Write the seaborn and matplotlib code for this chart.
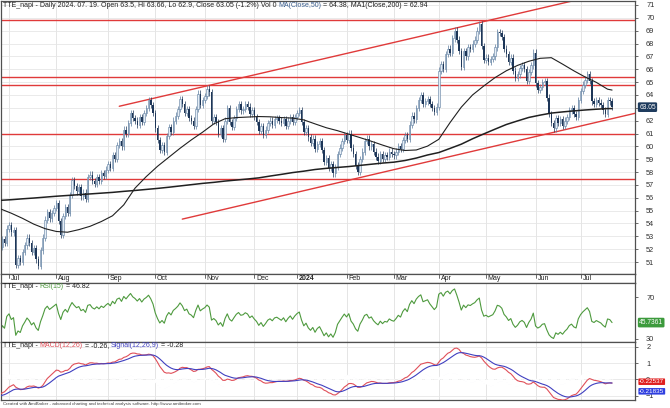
import numpy as np
import pandas as pd
import matplotlib
matplotlib.use('Agg')
import matplotlib.pyplot as plt
import seaborn as sns

# closes before the visible window (only used to warm up RSI / MACD)
warmup_close = [57.2, 56.7, 57.0, 56.3, 55.9, 56.2, 55.6, 55.1, 55.4, 54.8,
                54.4, 54.8, 54.3, 53.8, 54.2, 53.6, 53.2, 53.6, 53.0, 52.6,
                53.0, 52.5, 52.0, 52.3, 51.8, 51.5, 51.8, 52.1, 52.3, 52.4]

# daily closes, one list per month
close_jun23 = [52.2, 52.8, 52.5, 53.6]
close_jul23 = [53.9, 53.3, 53.5, 50.8, 51.3, 51.0, 51.8, 52.3, 52.9, 52.5, 51.8,
               52.1, 51.2, 50.7, 51.9, 52.9, 54.3, 54.9, 54.4, 54.8, 55.2]
close_aug23 = [55.6, 54.2, 53.1, 54.6, 55.3, 54.8, 56.2, 57.4, 56.9, 56.5, 56.8, 56.1,
               56.4, 55.9, 57.6, 57.8, 57.3, 57.1, 57.6, 57.3, 57.9, 57.7, 58.2]
close_sep23 = [58.6, 58.3, 59.3, 59.0, 60.1, 60.4, 60.0, 61.3, 61.0, 61.8, 62.6,
               62.2, 62.0, 61.7, 62.3, 61.9, 62.6, 63.0, 63.6, 63.2, 62.6]
close_oct23 = [61.4, 60.5, 59.7, 60.1, 59.6, 60.8, 61.5, 61.1, 62.0, 62.4, 62.9,
               63.7, 63.3, 62.6, 62.9, 62.2, 62.0, 61.6, 62.9, 64.1, 63.2, 63.6]
close_nov23 = [63.9, 64.5, 64.2, 62.0, 62.3, 61.9, 61.0, 61.4, 60.6, 62.0, 63.0,
               61.9, 61.5, 62.2, 62.9, 63.3, 62.8, 62.9, 63.3, 63.1, 62.5, 62.8]
close_dec23 = [62.3, 61.9, 61.2, 61.6, 60.9, 61.3, 61.8, 62.0, 61.7, 62.1, 62.2,
               62.0, 61.8, 62.1, 61.6, 62.0, 62.3, 61.9, 62.3]
close_jan24 = [62.6, 62.8, 61.9, 61.1, 61.4, 60.7, 60.3, 60.6, 59.8, 60.2, 60.4,
               59.7, 58.8, 59.1, 58.3, 58.6, 57.9, 58.4, 59.4, 59.9, 60.4, 60.9]
close_feb24 = [60.5, 61.0, 59.9, 59.4, 58.5, 58.0, 59.0, 59.6, 60.4, 60.6, 60.0,
               60.2, 59.6, 59.2, 58.9, 59.4, 59.0, 59.3, 59.2, 59.6, 59.4]
close_mar24 = [59.3, 59.6, 60.0, 59.8, 60.5, 60.9, 60.6, 61.7, 62.4, 62.1, 63.0,
               63.6, 64.0, 63.3, 63.5, 63.7, 63.3, 63.0, 62.7, 63.1]
close_apr24 = [65.9, 66.4, 66.0, 67.2, 67.6, 67.3, 68.4, 69.0, 68.3, 67.4, 66.2,
               67.4, 67.0, 67.7, 67.6, 68.0, 68.3, 69.0, 69.5, 67.8, 66.7]
close_may24 = [66.9, 66.6, 66.8, 67.0, 67.7, 68.9, 68.8, 68.5, 67.6, 67.2, 66.6,
               66.9, 65.9, 65.3, 65.6, 66.1, 66.3, 66.0, 65.1, 65.8, 66.3, 67.3]
close_jun24 = [64.9, 64.4, 64.6, 65.0, 65.1, 63.8, 62.5, 61.8, 61.4, 62.2, 61.8,
               62.1, 61.6, 62.0, 62.3, 62.8, 63.0, 62.5, 62.3, 63.6]
close_jul24 = [64.3, 64.8, 65.2, 65.6, 65.1, 63.5, 63.3, 63.6, 63.4, 63.2, 62.8,
               62.5, 63.6, 63.5, 63.05]

holidays = ['2023-12-25', '2023-12-26', '2024-01-01', '2024-03-29', '2024-04-01', '2024-05-01']

# moving averages, one value every 5 bars plus the last bar
ma50_pts = [55.15, 54.80, 54.40, 53.95, 53.60, 53.38, 53.32, 53.52, 53.78, 54.15,
            54.60, 55.45, 56.75, 57.65, 58.45, 59.15, 59.85, 60.50, 61.10, 61.75,
            62.15, 62.24, 62.28, 62.32, 62.30, 62.24, 62.20, 62.06, 61.75, 61.45,
            61.22, 60.95, 60.68, 60.40, 60.10, 59.82, 59.68, 59.72, 60.02, 60.55,
            61.85, 63.05, 64.00, 64.70, 65.35, 65.88, 66.30, 66.62, 66.85, 66.90,
            66.40, 65.88, 65.40, 64.98, 64.45, 64.38]
ma200_pts = [55.80, 55.85, 55.92, 55.98, 56.05, 56.12, 56.18, 56.24, 56.30, 56.36,
             56.42, 56.50, 56.57, 56.65, 56.73, 56.82, 56.92, 57.02, 57.12, 57.20,
             57.30, 57.38, 57.46, 57.55, 57.69, 57.82, 57.96, 58.07, 58.20, 58.29,
             58.36, 58.43, 58.52, 58.61, 58.70, 58.77, 58.90, 59.09, 59.33, 59.52,
             59.84, 60.17, 60.59, 60.97, 61.34, 61.70, 61.98, 62.25, 62.43, 62.59,
             62.68, 62.76, 62.83, 62.89, 62.94, 62.94]

level_lines = [69.8, 65.4, 64.8, 61.0, 57.5]
upper_trend = [('2023-09-08', 63.12), ('2024-04-26', 69.63)]
lower_trend = [('2023-10-18', 54.34), ('2024-06-12', 61.05)]

month_labels = ['Jul', 'Aug', 'Sep', 'Oct', 'Nov', 'Dec', '2024',
                'Feb', 'Mar', 'Apr', 'May', 'Jun', 'Jul']

sns.set_style('white')
plt.rcParams['font.family'] = ['Liberation Sans', 'DejaVu Sans']

dates = pd.bdate_range('2023-06-27', '2024-07-19')
dates = dates[~dates.isin(pd.to_datetime(holidays))]
closes = (close_jun23 + close_jul23 + close_aug23 + close_sep23 + close_oct23 +
          close_nov23 + close_dec23 + close_jan24 + close_feb24 + close_mar24 +
          close_apr24 + close_may24 + close_jun24 + close_jul24)
assert len(dates) == len(closes)
n = len(closes)

df = pd.DataFrame({'date': dates, 'x': np.arange(n), 'close': closes})
df['open'] = df['close'].shift(1).fillna(warmup_close[-1])
df['high'] = df[['open', 'close']].max(axis=1) + 0.25
df['low'] = df[['open', 'close']].min(axis=1) - 0.25

# indicators, computed on warm-up + visible closes
full = pd.Series(warmup_close + closes, dtype=float)
delta = full.diff().fillna(0)
gain = delta.clip(lower=0).ewm(alpha=1 / 15, adjust=True).mean()
loss = (-delta.clip(upper=0)).ewm(alpha=1 / 15, adjust=True).mean()
rsi = 100 - 100 / (1 + gain / loss)
ema12 = full.ewm(span=12, adjust=False).mean()
ema26 = full.ewm(span=26, adjust=False).mean()
macd = ema12 - ema26
signal = macd.ewm(span=9, adjust=False).mean()
k = len(warmup_close)
df['rsi'] = rsi.values[k:]
df['macd'] = macd.values[k:]
df['signal'] = signal.values[k:]
df['hist'] = df['macd'] - df['signal']

ma_x = list(range(0, n, 5)) + [n - 1]
ma = pd.DataFrame({'x': ma_x, 'ma50': ma50_pts, 'ma200': ma200_pts})

# layout in pixels
W, H = 670, 408
fig = plt.figure(figsize=(W / 100, H / 100), dpi=100)


def axes_px(x0, y0, x1, y1):
    return fig.add_axes([x0 / W, 1 - y1 / H, (x1 - x0) / W, (y1 - y0) / H])


ax_p = axes_px(1, 1, 635, 274)
ax_d = axes_px(1, 274, 635, 283)
ax_r = axes_px(1, 283, 635, 342)
ax_m = axes_px(1, 342, 635, 400)

xlim = (0.44, 282.2)
month_x = df.groupby([df['date'].dt.year, df['date'].dt.month])['x'].first().values[1:]

for ax in (ax_p, ax_d, ax_r, ax_m):
    ax.set_xlim(*xlim)
    ax.set_facecolor('white')
    for s in ax.spines.values():
        s.set_color('#505050')
        s.set_linewidth(0.9)
    ax.set_xticks([])
    if ax is not ax_d:
        for mx in month_x:
            ax.axvline(mx, color='#e0e0e0', lw=0.6, zorder=0)
        ax.yaxis.tick_right()
        ax.tick_params(axis='y', length=2, width=0.5, colors='#303030',
                       labelsize=5.3, pad=6)

# price panel
ax_p.set_ylim(50.07, 71.31)
ax_p.set_yticks(range(51, 72))
for lv in range(51, 72):
    ax_p.axhline(lv, color='#e6e6e6', lw=0.6, zorder=0)
for lv in level_lines:
    ax_p.axhline(lv, color='#e03a3a', lw=1.0, zorder=2)


def draw_trend(pts):
    (d0, p0), (d1, p1) = pts
    x0 = dates.get_loc(pd.Timestamp(d0))
    x1 = dates.get_loc(pd.Timestamp(d1))
    slope = (p1 - p0) / (x1 - x0)
    xs = np.array([x0, xlim[1]])
    ax_p.plot(xs, p0 + slope * (xs - x0), color='#e03a3a', lw=1.0, zorder=2)


draw_trend(upper_trend)
draw_trend(lower_trend)

up = df['close'] >= df['open']
ax_p.vlines(df['x'][up], df['low'][up], df['high'][up], color='#5c7c9e', lw=0.5, zorder=3)
ax_p.vlines(df['x'][~up], df['low'][~up], df['high'][~up], color='#1d3658', lw=0.5, zorder=3)
body = (df['close'] - df['open']).abs().clip(lower=0.05)
bottom = df[['open', 'close']].min(axis=1)
ax_p.bar(df['x'][up], body[up], bottom=bottom[up], width=0.65,
         facecolor='#e4edf6', edgecolor='#5c7c9e', lw=0.4, zorder=4)
ax_p.bar(df['x'][~up], body[~up], bottom=bottom[~up], width=0.65,
         color='#1d3658', lw=0, zorder=4)

sns.lineplot(data=ma, x='x', y='ma50', ax=ax_p, color='#202020', lw=0.8, zorder=5)
sns.lineplot(data=ma, x='x', y='ma200', ax=ax_p, color='#202020', lw=1.1, zorder=5)
ax_p.set_xlabel('')
ax_p.set_ylabel('')


def colored_title(ax, parts, fs=5.0):
    t = ax.text(0.003, 0.995, parts[0][0], color=parts[0][1], fontsize=fs,
                transform=ax.transAxes, va='top', ha='left', zorder=10)
    for s, c in parts[1:]:
        t = ax.annotate(s, xy=(1, 0), xycoords=t, va='bottom', ha='left',
                        color=c, fontsize=fs, zorder=10)


colored_title(ax_p, [
    ('TTE_napi - Daily 2024. 07. 19. Open 63.5, Hi 63.66, Lo 62.9, Close 63.05 (-1.2%) Vol 0 ', '#202020'),
    ('MA(Close,50)', '#3b5f8f'),
    (' = 64.38, MA1(Close,200) = 62.94', '#202020')])

last = df.iloc[-1]
ax_p.annotate(f"{last['close']:.2f}", xy=(1, last['close']),
              xycoords=('axes fraction', 'data'), xytext=(3, 0),
              textcoords='offset points', va='center', ha='left', fontsize=4.8,
              color='white', annotation_clip=False, zorder=10,
              bbox=dict(boxstyle='round,pad=0.2', fc='#1f3c5e', ec='none'))

# date strip
ax_d.set_ylim(0, 1)
ax_d.set_yticks([])
for mx, lab in zip(month_x, month_labels):
    ax_d.plot([mx, mx], [1, 0.6], color='#303030', lw=0.5)
    ax_d.text(mx + 0.8, 0.45, lab, fontsize=5.0, va='center', ha='left',
              color='#202020', fontweight='bold' if lab == '2024' else 'normal')

# RSI panel
ax_r.set_ylim(27.1, 83.7)
ax_r.set_yticks([30, 70])
sns.lineplot(data=df, x='x', y='rsi', ax=ax_r, color='#4e9a3e', lw=0.8)
ax_r.set_xlabel('')
ax_r.set_ylabel('')
colored_title(ax_r, [('TTE_napi - ', '#202020'), ('RSI(15)', '#4e9a3e'),
                     (' = 46.82', '#202020')])
ax_r.annotate(f"{last['rsi']:.4f}", xy=(1, last['rsi']),
              xycoords=('axes fraction', 'data'), xytext=(3, 0),
              textcoords='offset points', va='center', ha='left', fontsize=4.8,
              color='white', annotation_clip=False, zorder=10,
              bbox=dict(boxstyle='round,pad=0.2', fc='#3c9a3c', ec='none'))

# MACD panel
ax_m.set_ylim(-1.26, 2.29)
ax_m.set_yticks([-1, 0, 1, 2])
for lv in [-1, 0, 1, 2]:
    ax_m.axhline(lv, color='#e6e6e6', lw=0.6, zorder=0)
ax_m.bar(df['x'], df['hist'], width=0.35, color='#7d8ea4', zorder=2)
sns.lineplot(data=df, x='x', y='macd', ax=ax_m, color='#e0505a', lw=0.8, zorder=3)
sns.lineplot(data=df, x='x', y='signal', ax=ax_m, color='#4040c0', lw=0.8, zorder=3)
ax_m.set_xlabel('')
ax_m.set_ylabel('')
colored_title(ax_m, [('TTE_napi - ', '#202020'), ('MACD(12,26)', '#e0505a'),
                     (' = -0.26, ', '#202020'), ('Signal(12,26,9)', '#4040c0'),
                     (' = -0.28', '#202020')])
ax_m.annotate(f"{last['macd']:.5f}", xy=(1, last['macd']),
              xycoords=('axes fraction', 'data'), xytext=(3, 1),
              textcoords='offset points', va='center', ha='left', fontsize=4.6,
              color='white', annotation_clip=False, zorder=10,
              bbox=dict(boxstyle='round,pad=0.12', fc='#e02020', ec='none'))
ax_m.annotate(f"{last['signal']:.5f}", xy=(1, last['signal']),
              xycoords=('axes fraction', 'data'), xytext=(3, -6),
              textcoords='offset points', va='center', ha='left', fontsize=4.6,
              color='white', annotation_clip=False, zorder=10,
              bbox=dict(boxstyle='round,pad=0.12', fc='#2f3fe0', ec='none'))

fig.text(3 / W, 1 - 404 / H, 'Created with AmiBroker - advanced charting and technical '
         'analysis software. http://www.amibroker.com', fontsize=3.2,
         color='#404040', va='center', ha='left')

fig.savefig('out.png', dpi=100)
